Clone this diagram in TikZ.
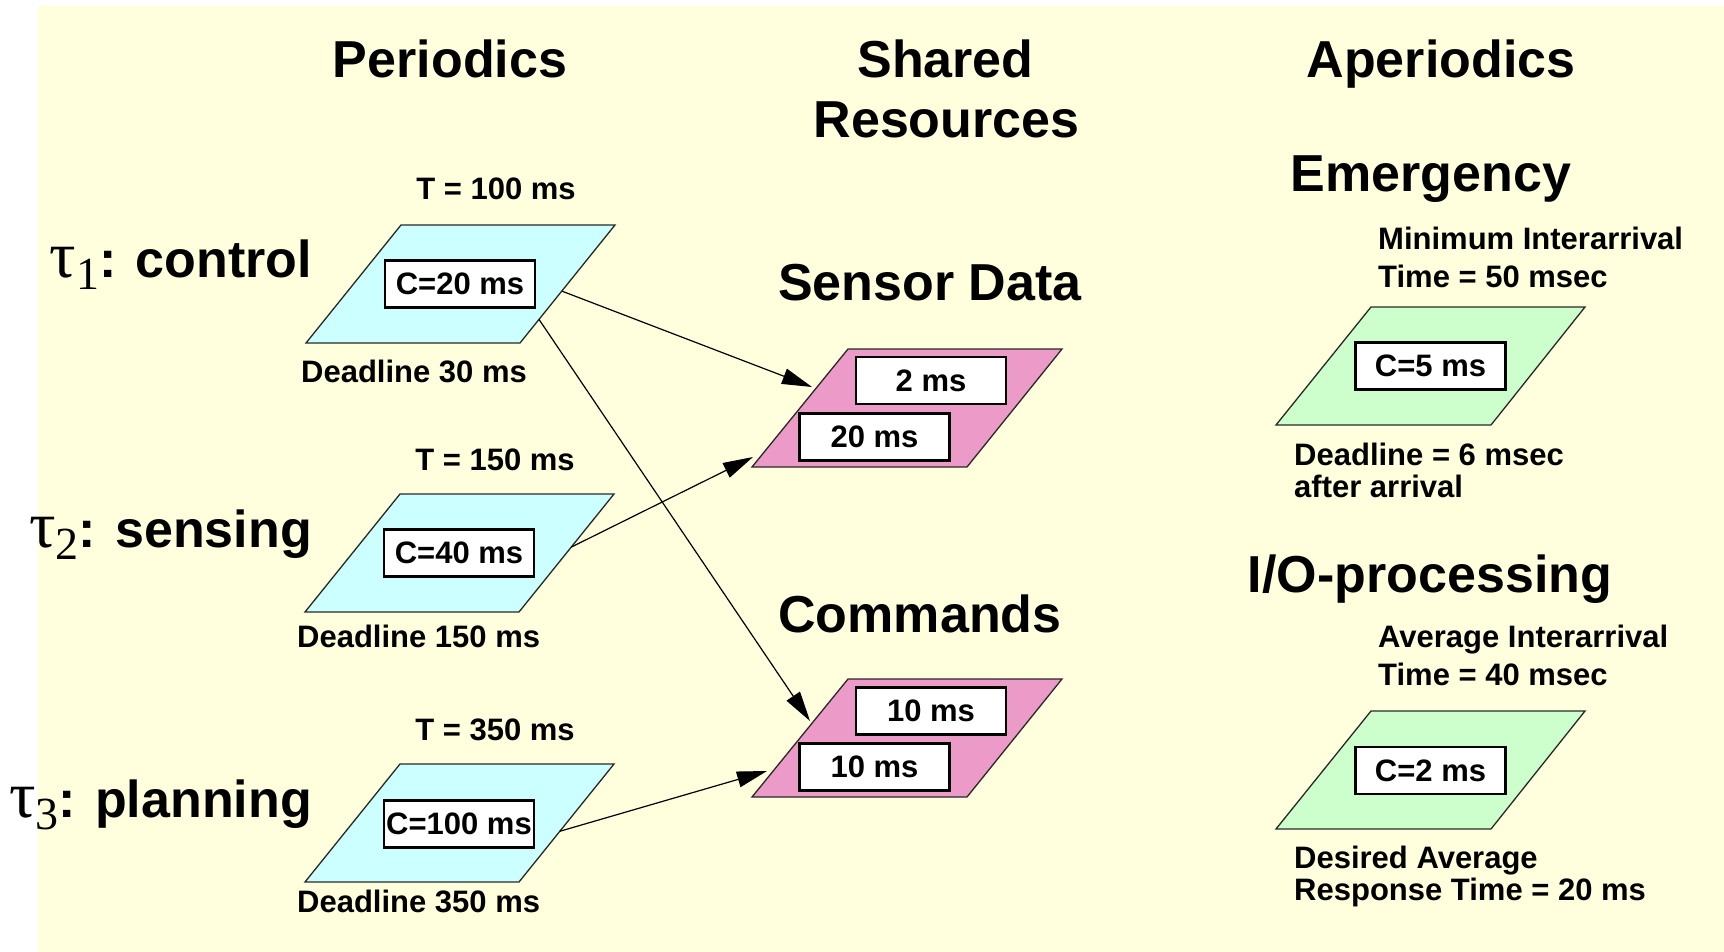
\documentclass[tikz,border=0pt]{standalone}
\usepackage{fontspec}
\setmainfont{Liberation Sans}
\newfontfamily\taufont{Liberation Serif}
\usetikzlibrary{arrows.meta,calc}
\definecolor{bgyellow}{RGB}{255,255,221}
\definecolor{pblue}{RGB}{204,255,255}
\definecolor{ppink}{RGB}{236,154,200}
\definecolor{pgreen}{RGB}{204,255,204}
\definecolor{edge}{RGB}{40,40,40}
\tikzset{
  title/.style={font=\fontsize{52}{60}\selectfont\bfseries, inner sep=0pt, anchor=base},
  small/.style={font=\fontsize{31}{37}\selectfont\bfseries, inner sep=0pt},
  cbox/.style={draw=black, line width=2.5pt, fill=white, minimum width=150pt, minimum height=47pt, inner sep=0pt, font=\fontsize{31}{37}\selectfont\bfseries},
  para/.style={draw=edge, line width=1.3pt},
  link/.style={line width=1.2pt, -{Triangle[length=30pt,width=16pt]}},
}
\newcommand{\taulabel}[2]{{\taufont\mdseries\fontsize{66}{66}\selectfont τ}\raisebox{-12pt}{\taufont\mdseries\fontsize{46}{46}\selectfont #1}: #2}
\begin{document}
\begin{tikzpicture}[x=1pt,y=-1pt]
\useasboundingbox (0,0) rectangle (1724,952);
\fill[white] (0,0) rectangle (1724,952);
\fill[bgyellow] (38,6) rectangle (1724,952);

% column titles
\node[title] (periodics) at (450,78) {Periodics};
\node[title] (shared) at (945.5,78) {Shared};
\node[title] (resources) at (946.5,138) {Resources};
\node[title] (aperiodics) at (1441,78) {Aperiodics};
\node[title] (emergency) at (1431,192) {Emergency};
\node[title] (sensordata) at (930,300) {Sensor Data};
\node[title] (commands) at (920,632) {Commands};
\node[title] (iotitle) at (1430,592) {I/O-processing};

% task labels
\node[title, anchor=base east] (tau1) at (312,277) {\taulabel{1}{control}};
\node[title, anchor=base east] (tau2) at (312,547) {\taulabel{2}{sensing}};
\node[title, anchor=base east] (tau3) at (312,817) {\taulabel{3}{planning}};

% periodic parallelograms
\draw[para, fill=pblue] (306,343) coordinate (p1-bl) -- ++(214,0) coordinate (p1-br) -- ++(95,-118) coordinate (p1-tr) -- ++(-214,0) coordinate (p1-tl) -- cycle;
\draw[para, fill=pblue] (305,612) coordinate (p2-bl) -- ++(214,0) coordinate (p2-br) -- ++(95,-118) coordinate (p2-tr) -- ++(-214,0) coordinate (p2-tl) -- cycle;
\draw[para, fill=pblue] (305,882) coordinate (p3-bl) -- ++(214,0) coordinate (p3-br) -- ++(95,-118) coordinate (p3-tr) -- ++(-214,0) coordinate (p3-tl) -- cycle;

% shared resource parallelograms
\draw[para, fill=ppink] (752,467) coordinate (s-bl) -- ++(215,0) coordinate (s-br) -- ++(95,-118) coordinate (s-tr) -- ++(-214,0) coordinate (s-tl) -- cycle;
\draw[para, fill=ppink] (752,797) coordinate (c-bl) -- ++(215,0) coordinate (c-br) -- ++(95,-118) coordinate (c-tr) -- ++(-214,0) coordinate (c-tl) -- cycle;

% aperiodic parallelograms
\draw[para, fill=pgreen] (1276,425) coordinate (e-bl) -- ++(215,0) coordinate (e-br) -- ++(94,-118) coordinate (e-tr) -- ++(-214,0) coordinate (e-tl) -- cycle;
\draw[para, fill=pgreen] (1276,829) coordinate (i-bl) -- ++(215,0) coordinate (i-br) -- ++(94,-118) coordinate (i-tr) -- ++(-214,0) coordinate (i-tl) -- cycle;

% boxes
\node[cbox] (c1) at (460,284) {C=20 ms};
\node[cbox] (c2) at (459,553) {C=40 ms};
\node[cbox] (c3) at (459,824) {C=100 ms};
\node[cbox] (s1) at (931,380.5) {2 ms};
\node[cbox] (s2) at (874.5,437) {20 ms};
\node[cbox] (m1) at (931,711) {10 ms};
\node[cbox] (m2) at (874.5,767) {10 ms};
\node[cbox] (e1) at (1430.5,366) {C=5 ms};
\node[cbox] (i1) at (1430.5,770.5) {C=2 ms};

% periods and deadlines
\node[small, anchor=base] (T1) at (496,200) {T = 100 ms};
\node[small, anchor=base] (T2) at (495,470) {T = 150 ms};
\node[small, anchor=base] (T3) at (495,740) {T = 350 ms};
\node[small, anchor=base west] (D1) at (301,382) {Deadline 30 ms};
\node[small, anchor=base west] (D2) at (297,647) {Deadline 150 ms};
\node[small, anchor=base west] (D3) at (297,912) {Deadline 350 ms};

% aperiodic texts
\node[small, anchor=base west] (ea) at (1378,250) {Minimum Interarrival};
\node[small, anchor=base west] (eb) at (1378,287) {Time = 50 msec};
\node[small, anchor=base west] (ec) at (1294,465) {Deadline = 6 msec};
\node[small, anchor=base west] (ed) at (1294,497) {after arrival};
\node[small, anchor=base west] (ia) at (1378,647) {Average Interarrival};
\node[small, anchor=base west] (ib) at (1378,685) {Time = 40 msec};
\node[small, anchor=base west] (ic) at (1294,868) {Desired Average};
\node[small, anchor=base west] (id) at (1294,900) {Response Time = 20 ms};

% connector end points
\coordinate (a1s) at ($(p1-tr)!0.56!(p1-br)$);
\coordinate (a2s) at ($(p1-tr)!0.80!(p1-br)$);
\coordinate (a3s) at ($(p2-tr)!0.45!(p2-br)$);
\coordinate (a4s) at ($(p3-tr)!0.57!(p3-br)$);
\coordinate (a1e) at (812,387);
\coordinate (a2e) at (810,721);
\coordinate (a3e) at (753,457);
\coordinate (a4e) at (767,771);

\draw[link] (a1s) -- (a1e);
\draw[link] (a2s) -- (a2e);
\draw[link] (a3s) -- (a3e);
\draw[link] (a4s) -- (a4e);
\end{tikzpicture}
\end{document}
